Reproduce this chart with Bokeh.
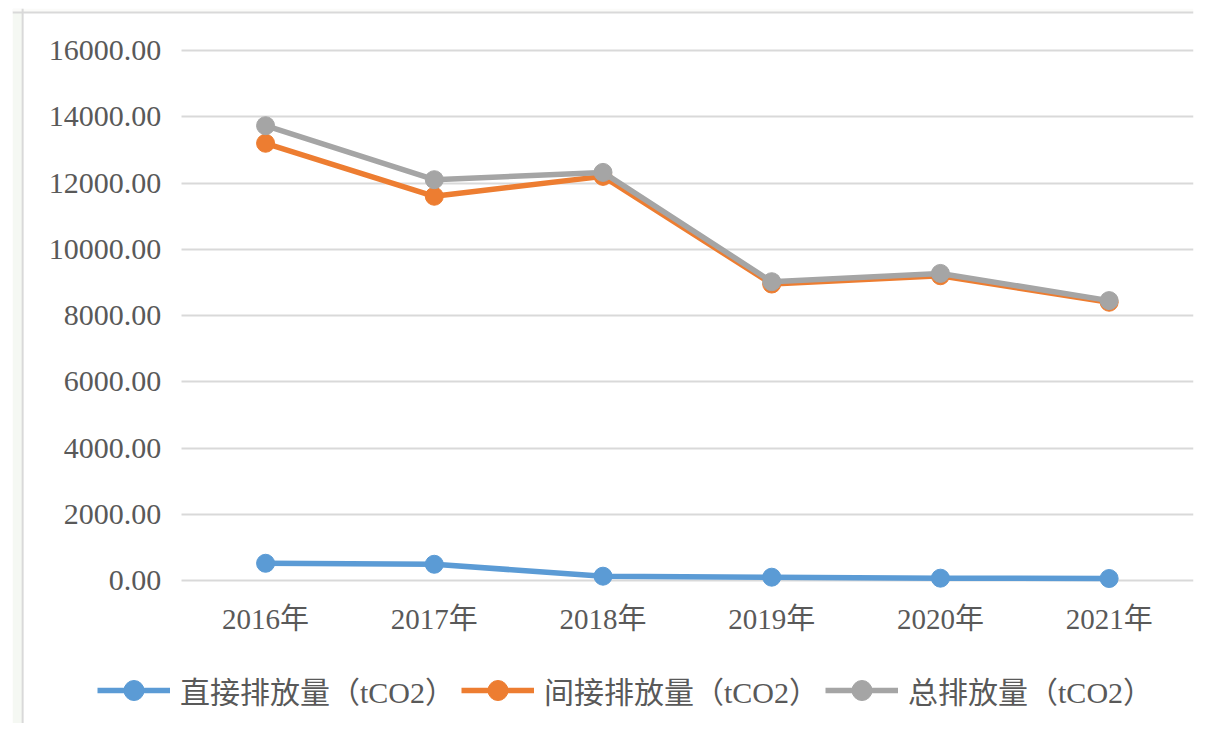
from bokeh.plotting import figure
from bokeh.models import (Range1d, FactorRange, NumeralTickFormatter, Legend, LegendItem,
                          FixedTicker, Span, BoxAnnotation)
from bokeh.embed import file_html
from bokeh.resources import INLINE

years = ["2016年", "2017年", "2018年", "2019年", "2020年", "2021年"]
direct = [520, 490, 130, 100, 70, 60]
indirect = [13200, 11600, 12200, 8950, 9200, 8400]
total = [13730, 12100, 12320, 9020, 9270, 8450]
series_names = ["直接排放量（tCO2）", "间接排放量（tCO2）", "总排放量（tCO2）"]
series_colors = ["#5b9bd5", "#ed7d31", "#a5a5a5"]
y_ticks = [0, 2000, 4000, 6000, 8000, 10000, 12000, 14000, 16000]

# a blank leading factor leaves room (inside the frame) for the axis labels and legend
x_range = FactorRange(factors=[" "] + years)
p = figure(x_range=x_range, y_range=Range1d(-4317, 17268), width=1197, height=723,
           output_backend="svg", toolbar_location=None,
           min_border_left=12, min_border_right=4, min_border_top=8, min_border_bottom=0)
p.outline_line_color = None
p.background_fill_color = "white"
p.border_fill_color = "white"

# page-like outer box: off-white surround with light grey left/top edges
page_bg = "#f5f8f3"
p.add_layout(BoxAnnotation(right=0.06, fill_color=page_bg, fill_alpha=1, line_color=None, level="underlay"))
p.add_layout(BoxAnnotation(bottom=17147, fill_color="#fbfbf9", fill_alpha=1, line_color=None, level="underlay"))
p.add_layout(Span(location=0.06, dimension="height", line_color="#d9d9d9", line_width=2))
p.add_layout(Span(location=17147, dimension="width", line_color="#d9d9d9", line_width=2))

items = []
for name, vals, col in zip(series_names, [direct, indirect, total], series_colors):
    r1 = p.line(years, vals, line_color=col, line_width=5.5)
    r2 = p.scatter(years, vals, size=18, fill_color=col, line_color=col)
    items.append(LegendItem(label=name, renderers=[r1, r2]))

p.xgrid.grid_line_color = None
p.yaxis.ticker = FixedTicker(ticks=y_ticks)
p.yaxis.formatter = NumeralTickFormatter(format="0.00")
p.xaxis.fixed_location = 0
p.yaxis.fixed_location = 1.0

for ax in (p.xaxis, p.yaxis):
    ax.axis_line_color = None
    ax.major_tick_line_color = None
    ax.minor_tick_line_color = None
    ax.major_tick_out = 0
    ax.major_tick_in = 0
    ax.major_label_text_font = "Liberation Serif, Noto Sans CJK SC"
    ax.major_label_text_font_size = "29px"
    ax.major_label_text_color = "#595959"
p.yaxis.major_label_text_font_size = "30px"
p.yaxis.major_label_standoff = 20
p.xaxis.major_label_standoff = 22

g = p.ygrid[0]
g.ticker = FixedTicker(ticks=y_ticks)
if "cross_bounds" in g.properties():
    g.cross_bounds = (1, 7)
    g.grid_line_color = "#d9d9d9"
    g.grid_line_width = 2
else:
    g.grid_line_color = None
    ya = p.yaxis[0]
    ya.level = "underlay"
    ya.major_tick_in = 1012
    ya.major_tick_line_color = "#d9d9d9"
    ya.major_tick_line_width = 2

legend = Legend(items=items, orientation="horizontal", location=(85, 8),
                glyph_width=73, glyph_height=50, label_standoff=10, spacing=6,
                padding=0, margin=0, border_line_color=None, background_fill_alpha=0,
                label_text_font="Liberation Serif, Noto Sans CJK SC", label_text_font_size="30px",
                label_text_color="#595959")
p.add_layout(legend, "center")

open("out.html", "w").write(file_html(p, INLINE))
